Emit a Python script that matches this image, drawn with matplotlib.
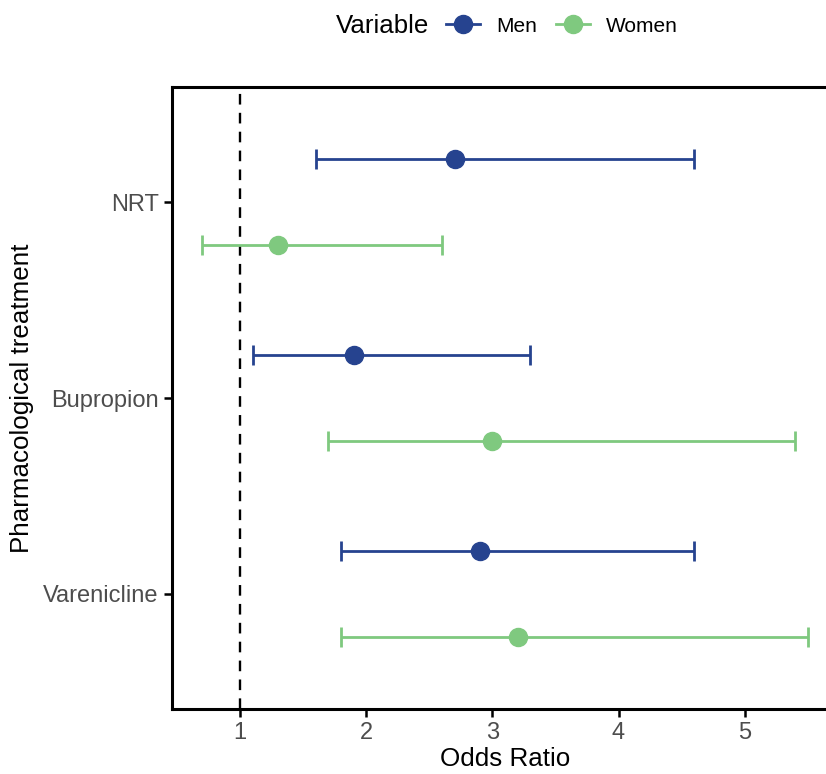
import matplotlib
matplotlib.use("Agg")
import matplotlib.pyplot as plt
from matplotlib.lines import Line2D
import numpy as np

plt.rcParams["font.family"] = ["Liberation Sans", "DejaVu Sans"]

# treatments, bottom to top on the y axis
treatments = ["Varenicline", "Bupropion", "NRT"]

men_or = [2.9, 1.9, 2.7]
men_low = [1.8, 1.1, 1.6]
men_high = [4.6, 3.3, 4.6]

women_or = [3.2, 3.0, 1.3]
women_low = [1.8, 1.7, 0.7]
women_high = [5.5, 5.4, 2.6]

men_color = "#26438F"
women_color = "#7FC97F"

fig = plt.figure(figsize=(8.26, 7.74), dpi=100)
ax = fig.add_axes([172 / 826, 65 / 774, 666 / 826, 622 / 774])

pos = np.arange(1, len(treatments) + 1)
dodge = 0.22

# reference line at OR = 1
ax.axvline(1, color="black", lw=1.7, ls=(0, (4.5, 3.5)), zorder=1)

for vals, lo, hi, col, off in [
    (men_or, men_low, men_high, men_color, dodge),
    (women_or, women_low, women_high, women_color, -dodge),
]:
    vals = np.array(vals)
    err = [vals - np.array(lo), np.array(hi) - vals]
    ax.errorbar(vals, pos + off, xerr=err, fmt="o", color=col, ecolor=col,
                elinewidth=2.0, capsize=7, capthick=2.0, markersize=13, zorder=3)

ax.set_xlim(0.46, 5.74)
ax.set_ylim(0.413, 3.587)
ax.set_yticks(pos)
ax.set_yticklabels(treatments)
ax.set_xticks([1, 2, 3, 4, 5])

for s in ["left", "bottom", "top"]:
    ax.spines[s].set_linewidth(2.2)
    ax.spines[s].set_color("black")
ax.spines["right"].set_visible(False)

ax.tick_params(axis="both", length=5.5, width=1.8, color="black",
               labelsize=17, labelcolor="#4D4D4D", pad=4)

ax.set_xlabel("Odds Ratio", fontsize=18.7, labelpad=2)
ax.set_ylabel("Pharmacological treatment", fontsize=18.7, labelpad=7)

# legend on top, title to the left of the keys
fig.text(336 / 826, 1 - 26 / 774, "Variable", fontsize=18.6, va="center", ha="left")
handles = [
    Line2D([0], [0], color=men_color, lw=2.0, marker="o", markersize=13),
    Line2D([0], [0], color=women_color, lw=2.0, marker="o", markersize=13),
]
fig.legend(handles, ["Men", "Women"], loc="center left",
           bbox_to_anchor=(446 / 826, 1 - 26 / 774), ncol=2, frameon=False,
           fontsize=15, handlelength=1.65, handletextpad=0.75,
           columnspacing=0.9, borderpad=0, borderaxespad=0)

fig.savefig("out.png", dpi=100)
